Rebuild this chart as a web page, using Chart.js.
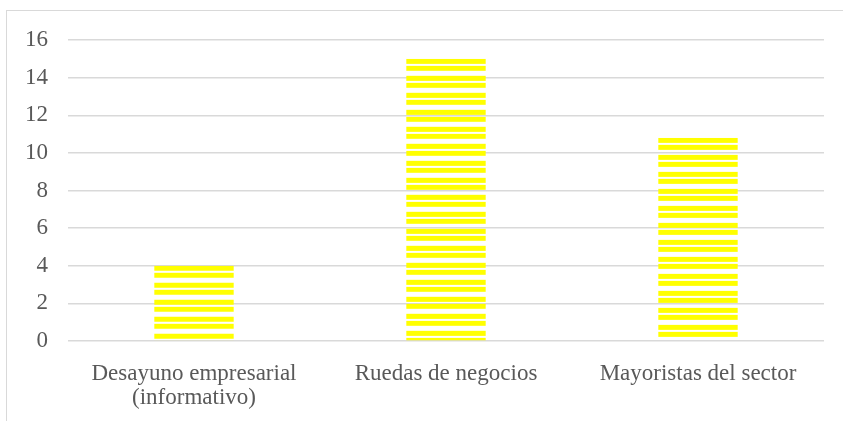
<!DOCTYPE html>
<html>
<head>
<meta charset="utf-8">
<script src="https://cdn.jsdelivr.net/npm/chart.js@4/dist/chart.umd.min.js"></script>
<style>
  html, body { margin: 0; padding: 0; background: #fff; overflow: hidden; }
  #frame {
    position: absolute; left: 6px; top: 10px;
    width: 900px; height: 500px;
    border: 1.5px solid #d9d9d9;
  }
  #wrap { position: absolute; left: 0; top: 0; width: 843px; height: 421px; }
</style>
</head>
<body>
<div id="frame"></div>
<div id="wrap"><canvas id="chart" width="843" height="421"></canvas></div>
<script>
// Eventos por tipo
const categories = [['Desayuno empresarial', '(informativo)'], 'Ruedas de negocios', 'Mayoristas del sector'];
const values = [4, 15, 10.8];
const yTicks = [0, 2, 4, 6, 8, 10, 12, 14, 16];

const gridColor = '#d9d9d9';
const textColor = '#595959';
const fontFamily = "'Liberation Serif', 'Times New Roman', serif";

// Horizontal stripe fill: two yellow bands, then a wider gap
function makeStripes() {
    const c = document.createElement('canvas');
    c.width = 8;
    c.height = 17;
    const g = c.getContext('2d');
    g.fillStyle = '#ffff00';
    g.fillRect(0, 0, 8, 5);
    g.fillRect(0, 7, 8, 5);
    return c;
}
const stripeTile = makeStripes();

// Anchor the stripes at the top of each bar
function barFill(ctx) {
    const chart = ctx.chart;
    const y = chart.scales.y;
    if (!y || ctx.parsed == null) return '#ffff00';
    const top = y.getPixelForValue(ctx.parsed.y);
    const pat = chart.ctx.createPattern(stripeTile, 'repeat');
    pat.setTransform(new DOMMatrix([1, 0, 0, 1, 0, top]));
    return pat;
}

new Chart(document.getElementById('chart'), {
    type: 'bar',
    data: {
        labels: categories,
        datasets: [{
            data: values,
            backgroundColor: barFill,
            borderWidth: 0,
            categoryPercentage: 1,
            barPercentage: 0.315
        }]
    },
    options: {
        responsive: false,
        animation: false,
        layout: { padding: { top: 40, right: 19, left: 0, bottom: 0 } },
        plugins: { legend: { display: false }, tooltip: { enabled: false } },
        scales: {
            x: {
                grid: { display: false },
                border: { display: false },
                ticks: {
                    color: textColor,
                    font: { family: fontFamily, size: 23, lineHeight: 1.04 },
                    padding: 13,
                    maxRotation: 0,
                    autoSkip: false
                },
                afterFit: s => { s.height = 80; }
            },
            y: {
                min: 0,
                max: 16,
                afterBuildTicks: s => { s.ticks = yTicks.map(v => ({ value: v })); },
                grid: { color: gridColor, lineWidth: 1.5, drawTicks: false },
                border: { display: false },
                ticks: {
                    color: textColor,
                    font: { family: fontFamily, size: 23 },
                    padding: 20
                },
                afterFit: s => { s.width = 68; }
            }
        }
    }
});
</script>
</body>
</html>
